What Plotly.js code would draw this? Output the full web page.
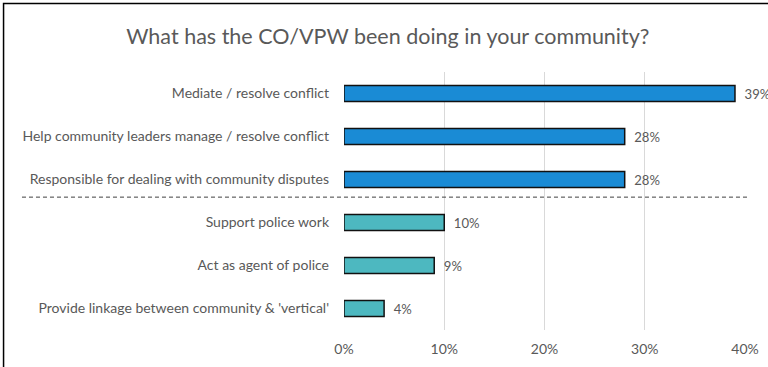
<!DOCTYPE html>
<html><head><meta charset="utf-8">
<script src="https://cdn.plot.ly/plotly-3.0.1.min.js"></script>
<style>html,body{margin:0;padding:0;background:#fff;}#chart{width:768px;height:367px;}</style>
</head><body><div id="chart"></div>
<script>
const categories = [
  "Mediate / resolve conflict",
  "Help community leaders manage / resolve conflict",
  "Responsible for dealing with community disputes",
  "Support police work",
  "Act as agent of police",
  "Provide linkage between community & 'vertical'"
];
const values = [0.39, 0.28, 0.28, 0.10, 0.09, 0.04];
const valueLabels = ["39%", "28%", "28%", "10%", "9%", "4%"];
const barColors = ["#1a8bd5", "#1a8bd5", "#1a8bd5", "#4db8c0", "#4db8c0", "#4db8c0"];
const tickVals = [0, 0.1, 0.2, 0.3, 0.4];
const tickText = ["0%", "10%", "20%", "30%", "40%"];

const grey = "#595959";
const fam = "Lato, 'Open Sans', sans-serif";
const trace = {
  type: "bar",
  orientation: "h",
  y: categories,
  x: values,
  text: valueLabels,
  texttemplate: "\u2002%{text}",
  textposition: "outside",
  cliponaxis: false,
  textfont: {family: fam, size: 14, color: grey},
  marker: {color: barColors, line: {color: "#111111", width: 1.5}},
  width: 0.37,
  hoverinfo: "none"
};
const layout = {
  width: 768, height: 367,
  margin: {l: 344, r: 23, t: 72, b: 37},
  paper_bgcolor: "#ffffff", plot_bgcolor: "#ffffff",
  showlegend: false,
  title: {text: "What has the CO/VPW been doing in your community?",
    font: {family: fam, size: 21.5, color: grey},
    x: 0.505, xanchor: "center", y: 0.1, yanchor: "middle", yref: "container"},
  xaxis: {range: [0, 0.4], tickvals: tickVals, ticktext: tickText,
    showgrid: true, gridcolor: "#d9d9d9", gridwidth: 1, zeroline: false,
    showline: false, ticks: "", fixedrange: true, ticklabelstandoff: 9,
    tickfont: {family: fam, size: 14, color: grey}},
  yaxis: {autorange: "reversed", showgrid: false, zeroline: false, showline: false,
    ticks: "", ticklabelstandoff: 14,
    tickfont: {family: fam, size: 14, color: grey}},
  shapes: [
    {type: "line", xref: "paper", yref: "y", x0: -0.803, x1: 1.0125, y0: 2.41, y1: 2.41,
     line: {color: "#404040", width: 1, dash: "4px,3px"}},
    {type: "rect", xref: "paper", yref: "paper", x0: -0.849, x1: 1.2, y0: -0.4, y1: 1.2655,
     line: {color: "#000000", width: 1.5}, fillcolor: "rgba(0,0,0,0)"}
  ]
};
layout.title.y = 0.9;
Plotly.newPlot("chart", [trace], layout, {staticPlot: true, displayModeBar: false});
</script></body></html>
